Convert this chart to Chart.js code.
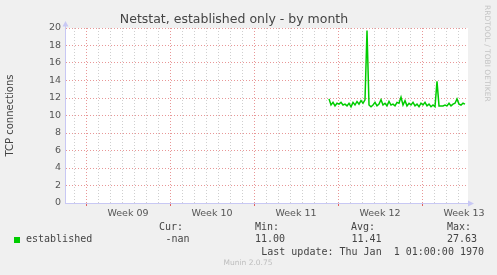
<!DOCTYPE html>
<html>
<head>
<meta charset="utf-8">
<script src="https://cdn.jsdelivr.net/npm/chart.js@4/dist/chart.umd.min.js"></script>
<style>
html, body { margin: 0; padding: 0; background: #f0f0f0; }
canvas { display: block; }
</style>
</head>
<body>
<canvas id="c" width="497" height="275"></canvas>
<script>
// time axis in days, 0 = start of Week 09
const weekLabels = ['Week 09', 'Week 10', 'Week 11', 'Week 12', 'Week 13'];
const weekStarts = [0, 7, 14, 21, 28];
const weekCenters = [3.5, 10.5, 17.5, 24.5, 31.5];
const dayTicks = [-1, 0, 1, 2, 3, 4, 5, 6, 7, 8, 9, 10, 11, 12, 13, 14, 15,
  16, 17, 18, 19, 20, 21, 22, 23, 24, 25, 26, 27, 28, 29, 30, 31];
const xMin = -1.667, xMax = 31.833;

// samples every 4 hours starting at day 20.25
const sampleStart = 20.25;
const sampleStep = 4 / 24;
const established = [
  11.9, 11.2, 11.5, 11.1, 11.4, 11.3, 11.5, 11.2, 11.3, 11.1,
  11.4, 11.0, 11.5, 11.2, 11.6, 11.3, 11.7, 11.4, 11.8, 19.7,
  11.2, 11.0, 11.2, 11.5, 11.1, 11.3, 11.8, 11.2, 11.4, 11.1,
  11.6, 11.2, 11.3, 11.1, 11.5, 11.4, 12.1, 11.2, 11.7, 11.1,
  11.4, 11.2, 11.5, 11.1, 11.3, 11.0, 11.4, 11.2, 11.5, 11.1,
  11.3, 11.0, 11.2, 11.0, 13.9, 11.1, 11.1, 11.1, 11.2, 11.1,
  11.4, 11.1, 11.3, 11.4, 11.9, 11.3, 11.2, 11.4, 11.3
];

const statLabels = ['Cur:', 'Min:', 'Avg:', 'Max:'];
const statValues = ['-nan', '11.00', '11.41', '27.63'];

const points = established.map((v, i) => ({ x: sampleStart + i * sampleStep, y: v }));

const RED = 'rgba(230,140,140,0.9)';
const GREY = '#cfcfcf';
const AXIS = '#c8c8f4';
const sans = 'DejaVu Sans';
const mono = 'DejaVu Sans Mono';

const munin = {
  id: 'munin',
  beforeDraw(chart) {
    const { ctx, chartArea: a } = chart;
    ctx.save();
    ctx.fillStyle = '#f0f0f0';
    ctx.fillRect(0, 0, chart.width, chart.height);
    ctx.fillStyle = '#ffffff';
    ctx.fillRect(a.left, a.top, a.right - a.left, a.bottom - a.top);
    ctx.restore();
  },
  beforeDatasetsDraw(chart) {
    const { ctx, chartArea: a } = chart;
    ctx.save();
    ctx.strokeStyle = AXIS;
    ctx.lineWidth = 1;
    ctx.beginPath();
    ctx.moveTo(a.left - 0.5, a.bottom + 0.5);
    ctx.lineTo(a.left - 0.5, a.top - 3);
    ctx.moveTo(a.left - 1, a.bottom + 0.5);
    ctx.lineTo(a.right + 1, a.bottom + 0.5);
    ctx.stroke();
    ctx.fillStyle = AXIS;
    ctx.beginPath();
    ctx.moveTo(a.left - 0.5, a.top - 7);
    ctx.lineTo(a.left - 3.5, a.top - 1.5);
    ctx.lineTo(a.left + 2.5, a.top - 1.5);
    ctx.fill();
    ctx.beginPath();
    ctx.moveTo(a.right + 6, a.bottom + 0.5);
    ctx.lineTo(a.right, a.bottom - 2.5);
    ctx.lineTo(a.right, a.bottom + 3.5);
    ctx.fill();
    ctx.restore();
  },
  afterDraw(chart) {
    const ctx = chart.ctx;
    ctx.save();
    // vendor stamp on the right edge
    ctx.translate(487, 5);
    ctx.rotate(Math.PI / 2);
    ctx.font = '7.5px "' + sans + '"';
    ctx.fillStyle = '#c4c4c4';
    ctx.textBaseline = 'middle';
    ctx.textAlign = 'left';
    ctx.fillText('RRDTOOL / TOBI OETIKER', 0, 0);
    ctx.restore();

    ctx.save();
    ctx.font = '10px "' + mono + '"';
    ctx.fillStyle = '#444';
    ctx.textBaseline = 'middle';
    const cols = [159, 255, 351, 447];
    const valX = [165.5, 255, 351.5, 447];
    statLabels.forEach((t, i) => ctx.fillText(t, cols[i], 227.5));
    statValues.forEach((t, i) => ctx.fillText(t, valX[i], 239.5));
    ctx.fillText('established', 26, 239.5);
    ctx.textAlign = 'right';
    ctx.fillText('Last update: Thu Jan  1 01:00:00 1970', 484, 252);
    ctx.fillStyle = '#00cc00';
    ctx.fillRect(14, 237, 6, 6);
    ctx.font = '7.5px "' + sans + '"';
    ctx.fillStyle = '#bdbdbd';
    ctx.textAlign = 'center';
    ctx.fillText('Munin 2.0.75', 248, 263.5);
    ctx.restore();
  }
};

new Chart(document.getElementById('c'), {
  type: 'line',
  data: {
    datasets: [{
      label: 'established',
      data: points,
      borderColor: '#00cc00',
      borderWidth: 1.5,
      pointRadius: 0,
      tension: 0,
      xAxisID: 'x',
      yAxisID: 'y'
    }]
  },
  options: {
    responsive: false,
    devicePixelRatio: 1,
    animation: false,
    layout: { padding: { left: 0, right: 29, top: 0, bottom: 49 } },
    plugins: {
      legend: { display: false },
      tooltip: { enabled: false },
      title: {
        display: true,
        text: 'Netstat, established only - by month',
        color: '#444',
        font: { family: sans, size: 12.5, weight: 'normal' },
        padding: { top: 12, bottom: 1 }
      }
    },
    scales: {
      x: {
        type: 'linear',
        position: 'bottom',
        min: xMin,
        max: xMax,
        afterBuildTicks: (s) => { s.ticks = dayTicks.map(v => ({ value: v })); },
        afterFit: (s) => { s.height = 3; },
        ticks: { display: false, autoSkip: false },
        grid: {
          color: (c) => weekStarts.includes(c.tick.value) ? RED : GREY,
          tickColor: (c) => weekStarts.includes(c.tick.value) ? '#e06060' : 'rgba(0,0,0,0)',
          tickLength: 3,
          lineWidth: 1
        },
        border: { display: false, dash: [1, 2] }
      },
      xw: {
        type: 'linear',
        position: 'bottom',
        min: xMin,
        max: xMax,
        afterBuildTicks: (s) => { s.ticks = weekCenters.map(v => ({ value: v })); },
        afterFit: (s) => { s.height = 20; },
        ticks: {
          autoSkip: false,
          maxRotation: 0,
          minRotation: 0,
          padding: -6,
          color: '#555',
          font: { family: sans, size: 9.5 },
          callback: (v, i) => weekLabels[i]
        },
        grid: { display: false },
        border: { display: false }
      },
      y: {
        min: 0,
        max: 20,
        afterFit: (s) => { s.width = 66; },
        ticks: {
          stepSize: 1,
          padding: 5,
          color: '#555',
          font: { family: sans, size: 9.5 },
          callback: (v) => v % 2 === 0 ? String(v) : ''
        },
        grid: {
          drawTicks: false,
          color: (c) => c.tick.value % 2 === 0 ? RED : GREY,
          lineWidth: 1
        },
        border: { display: false, dash: [1, 2] },
        title: {
          display: true,
          text: 'TCP connections',
          color: '#444',
          font: { family: sans, size: 10 },
          padding: { top: 4, bottom: 0 }
        }
      }
    }
  },
  plugins: [munin]
});
</script>
</body>
</html>
